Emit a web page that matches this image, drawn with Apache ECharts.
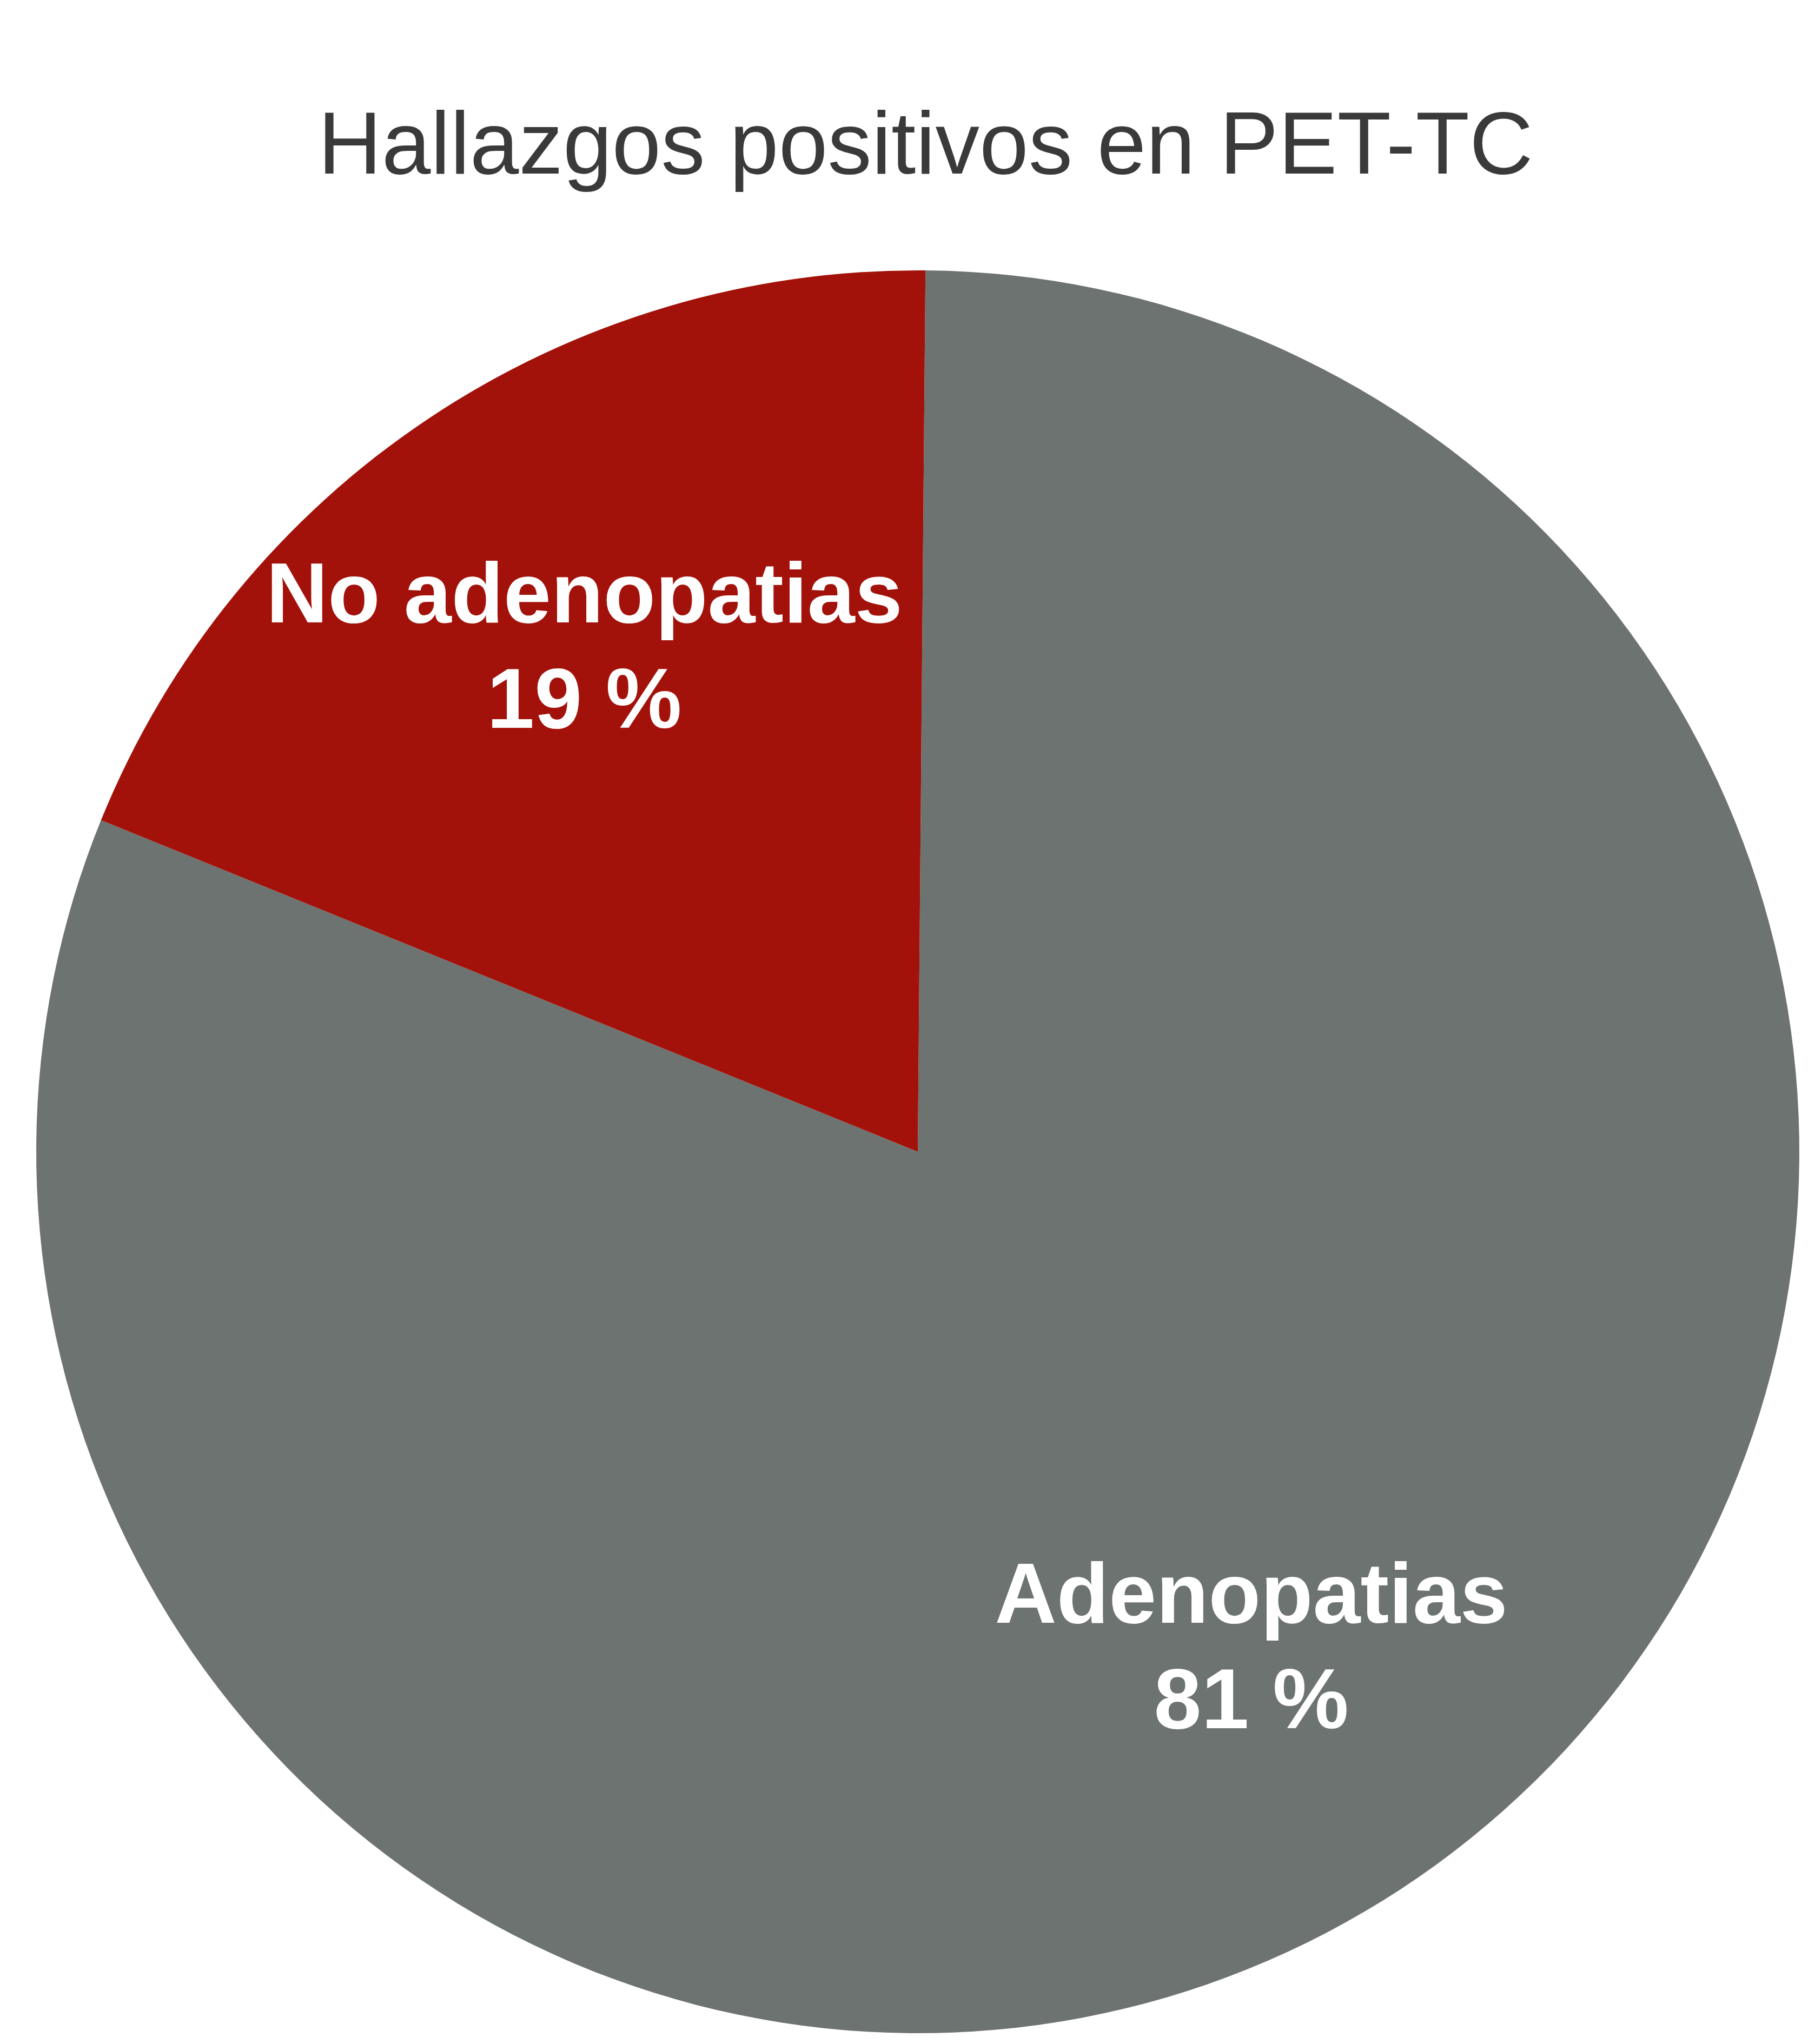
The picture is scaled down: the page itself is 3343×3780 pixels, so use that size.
<!DOCTYPE html>
<html>
<head>
<meta charset="utf-8">
<title>Hallazgos positivos en PET-TC</title>
<script src="https://cdn.jsdelivr.net/npm/echarts@6/dist/echarts.min.js"></script>
<style>
  html, body { margin: 0; padding: 0; background: #fff; }
  #chart { width: 3343px; height: 3780px; }
</style>
</head>
<body>
<div id="chart"></div>
<script>
// datos del gráfico
var categorias = ['Adenopatias', 'No adenopatias'];
var porcentajes = [81, 19];
var colores = ['#6D7370', '#A3120A'];

var datos = categorias.map(function (nombre, i) {
  return { name: nombre, value: porcentajes[i], itemStyle: { color: colores[i] } };
});

var myChart = echarts.init(document.getElementById('chart'));

var centro = [1697, 2130];
var radio = 1630;

var option = {
  backgroundColor: '#ffffff',
  animation: false,
  title: {
    text: 'Hallazgos positivos en PET-TC',
    left: 588,
    top: 195,
    padding: 0,
    textStyle: {
      fontFamily: 'Liberation Sans, Arial, sans-serif',
      fontSize: 163,
      fontWeight: 'normal',
      color: '#3a3a3a'
    }
  },
  series: [{
    // las porciones
    type: 'pie',
    center: centro,
    radius: radio,
    startAngle: 89.5,
    clockwise: true,
    silent: true,
    label: { show: false },
    labelLine: { show: false },
    data: datos
  }, {
    // capa transparente solo para colocar los textos más hacia fuera
    type: 'pie',
    center: centro,
    radius: radio * 1.36,
    startAngle: 89.5,
    clockwise: true,
    silent: true,
    itemStyle: { color: 'rgba(0,0,0,0)' },
    label: {
      show: true,
      position: 'inside',
      formatter: '{b}\n{c} %',
      color: '#ffffff',
      fontFamily: 'Liberation Sans, Arial, sans-serif',
      fontWeight: 'bold',
      fontSize: 158,
      lineHeight: 195,
      align: 'center'
    },
    labelLine: { show: false },
    data: categorias.map(function (nombre, i) {
      return { name: nombre, value: porcentajes[i] };
    })
  }]
};

myChart.setOption(option);
</script>
</body>
</html>
